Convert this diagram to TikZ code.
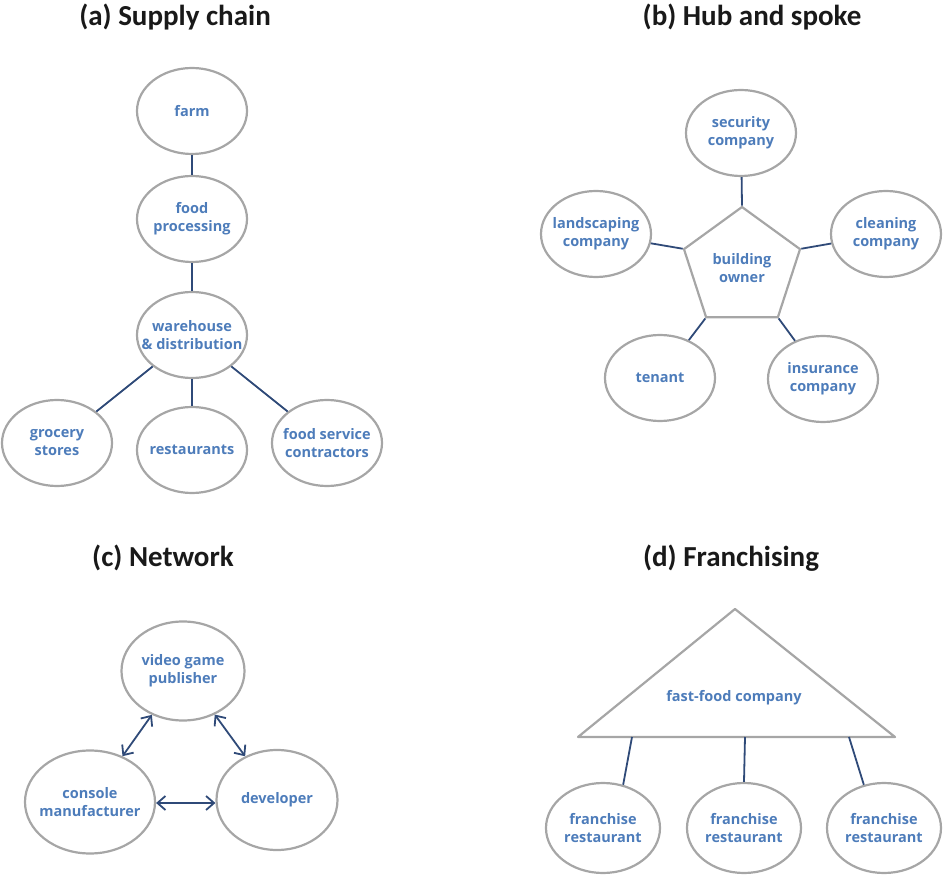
\documentclass[tikz,border=0pt]{standalone}
\usepackage{fontspec}
\setmainfont{Carlito}
\newfontfamily\partyfont{Open Sans}
\usetikzlibrary{shapes.geometric,arrows.meta}

\definecolor{ringgray}{HTML}{A6A6A6}
\definecolor{linkblue}{HTML}{2F4A78}
\definecolor{partyblue}{HTML}{4D7CBA}

\tikzset{
    panel/.style={font=\bfseries\fontsize{29}{32}\selectfont, text=black!90},
    partytext/.style={text=partyblue, align=center, font=\partyfont\bfseries\fontsize{14.5}{18}\selectfont},
    party/.style={ellipse, draw=ringgray, line width=2.2pt, inner xsep=-30pt, inner ysep=-15pt,
        minimum width=110pt, minimum height=86pt, partytext},
    link/.style={draw=linkblue, line width=1.8pt},
    twoway/.style={link, {Straight Barb[length=8pt,width=14pt]}-{Straight Barb[length=8pt,width=14pt]}}
}

\begin{document}
\begin{tikzpicture}[x=1pt, y=-1pt]
    \useasboundingbox (0,0) rectangle (946,877);

    % (a) supply chain
    \node[panel] (titleA) at (175,17) {(a) Supply chain};
    \node[party] (farm) at (192,111) {farm};
    \node[party] (proc) at (192,219) {food\\processing};
    \node[party] (ware) at (192,335) {warehouse\\\& distribution};
    \node[party] (groc) at (57,443) {grocery\\stores};
    \node[party] (rest) at (192,450) {restaurants};
    \node[party] (cont) at (327,443) {food service\\contractors};
    \draw[link] (farm) -- (proc);
    \draw[link] (proc) -- (ware);
    \draw[link] (ware) -- (groc);
    \draw[link] (ware) -- (rest);
    \draw[link] (ware) -- (cont);

    % (b) hub and spoke
    \node[panel] (titleB) at (752,17) {(b) Hub and spoke};
    \node[regular polygon, regular polygon sides=5, draw=ringgray, line width=2.2pt,
        inner sep=0pt, minimum size=122pt, partytext] (hub) at (742,268) {building\\owner};
    \node[party] (secu) at (741,133) {security\\company};
    \node[party] (land) at (596,234) {landscaping\\company};
    \node[party] (clean) at (886,234) {cleaning\\company};
    \node[party] (tenant) at (660,378) {tenant};
    \node[party] (insur) at (823,379) {insurance\\company};
    \draw[link] (secu) -- (hub.corner 1);
    \draw[link] (land) -- (hub.corner 2);
    \draw[link] (tenant) -- (hub.corner 3);
    \draw[link] (insur) -- (hub.corner 4);
    \draw[link] (clean) -- (hub.corner 5);

    % (c) network
    \node[panel] (titleC) at (163,558) {(c) Network};
    \node[party, minimum width=123pt, minimum height=99pt] (publ) at (183,671) {video game\\publisher};
    \node[party, minimum width=130pt, minimum height=103pt] (cons) at (90,802) {console\\manufacturer};
    \node[party, minimum width=121pt, minimum height=100pt] (devel) at (277,800) {developer};
    \draw[twoway] (publ) -- (cons);
    \draw[twoway] (publ) -- (devel);
    \draw[twoway] (cons.east |- 0,803) -- (devel.west |- 0,803);

    % (d) franchising
    \node[panel] (titleD) at (731,558) {(d) Franchising};
    \coordinate (apex) at (735,609);
    \coordinate (baseL) at (578,737);
    \coordinate (baseR) at (895,737);
    \draw[ringgray, line width=2.2pt, line join=round] (apex) -- (baseR) -- (baseL) -- cycle;
    \node[partytext] (fastfood) at (734,698) {fast-food company};
    \coordinate (foot1) at (632,737);
    \coordinate (foot2) at (745,737);
    \coordinate (foot3) at (849,737);
    \node[party, minimum width=114pt, minimum height=90pt] (fran1) at (603,828) {franchise\\restaurant};
    \node[party, minimum width=114pt, minimum height=90pt] (fran2) at (744,828) {franchise\\restaurant};
    \node[party, minimum width=114pt, minimum height=90pt] (fran3) at (884,828) {franchise\\restaurant};
    \draw[link] (foot1) -- (fran1.65);
    \draw[link] (foot2) -- (fran2.north);
    \draw[link] (foot3) -- (fran3.115);
\end{tikzpicture}
\end{document}
